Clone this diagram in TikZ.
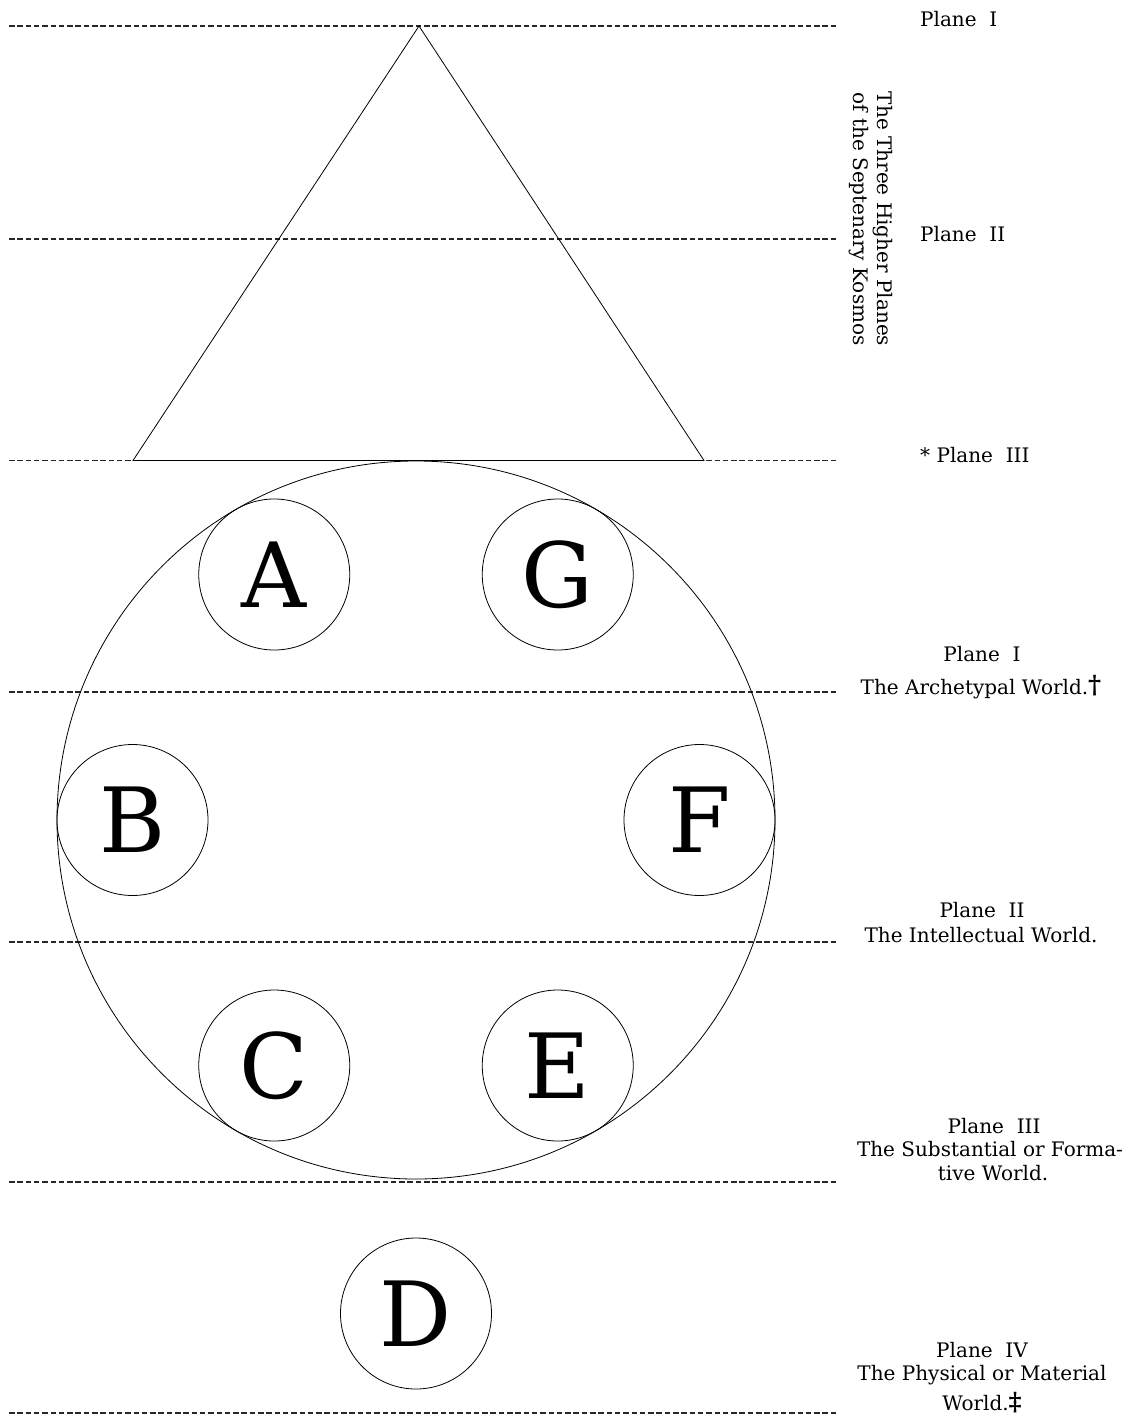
\documentclass[tikz,border=0pt]{standalone}
\usepackage{fontspec}
\setmainfont{DejaVu Serif}
\begin{document}
\begin{tikzpicture}[x=1pt,y=-1pt,
  planeline/.style={draw=black!85,line width=1.6pt,dash pattern=on 5.5pt off 2.8pt},
  shape line/.style={draw=black,line width=0.8pt},
  ring/.style={circle,draw=black,line width=0.8pt,minimum size=151pt,inner sep=0pt,font=\fontsize{90}{90}\selectfont},
  lbl/.style={inner sep=0pt,anchor=base,font=\fontsize{20}{24}\selectfont},
  lblw/.style={inner sep=0pt,anchor=base west,font=\fontsize{20}{24}\selectfont}]
\useasboundingbox (0,0) rectangle (1131,1416);
% dashed plane lines
\coordinate (l1a) at (9,26);    \coordinate (l1b) at (838,26);
\coordinate (l2a) at (9,239);   \coordinate (l2b) at (838,239);
\coordinate (l3a) at (9,460.5); \coordinate (l3b) at (838,460.5);
\coordinate (l4a) at (9,692);   \coordinate (l4b) at (838,692);
\coordinate (l5a) at (9,942);   \coordinate (l5b) at (838,942);
\coordinate (l6a) at (9,1182);  \coordinate (l6b) at (838,1182);
\coordinate (l7a) at (9,1413);  \coordinate (l7b) at (838,1413);
\foreach \i in {1,...,7}{\draw[planeline] (l\i a) -- (l\i b);}
% triangle
\coordinate (apex) at (419,26);
\coordinate (bl) at (133,460.5);
\coordinate (br) at (704,460.5);
\draw[shape line] (apex) -- (bl) -- (br) -- cycle;
% big circle
\node[circle,draw=black,line width=0.8pt,minimum size=718pt,inner sep=0pt] (big) at (416,820) {};
% small circles
\node[ring] (A) at (274.25,574.5) {A};
\node[ring] (G) at (557.75,574.5) {G};
\node[ring] (B) at (132.5,820) {B};
\node[ring] (F) at (699.5,820) {F};
\node[ring] (C) at (274.25,1065.5) {C};
\node[ring] (E) at (557.75,1065.5) {E};
\node[ring] (D) at (416,1313.5) {D};
% upper labels
\node[lblw] (p1) at (920,27) {Plane\ \ I};
\node[lblw] (p2) at (920,241) {Plane\ \ II};
\node[lblw] (p3) at (920,462) {* Plane\ \ III};
\node[lbl,rotate=-90] (v1) at (877,219) {The Three Higher Planes};
\node[lbl,rotate=-90] (v2) at (853,219) {of the Septenary Kosmos};
% lower labels
\node[lbl] (q1) at (982,661) {Plane\ \ I};
\node[lbl] (q1b) at (981,694) {The Archetypal World.\raisebox{1pt}{\fontsize{25}{25}\selectfont\bfseries †}};
\node[lbl] (q2) at (982,917) {Plane\ \ II};
\node[lbl] (q2b) at (981,942) {The Intellectual World.};
\node[lbl] (q3) at (994,1133) {Plane\ \ III};
\node[lbl] (q3b) at (990,1156) {The Substantial or Forma-};
\node[lbl] (q3c) at (993,1180) {tive World.};
\node[lbl] (q4) at (982,1357) {Plane\ \ IV};
\node[lbl] (q4b) at (982,1380) {The Physical or Material};
\node[lbl] (q4c) at (982,1410) {World.\raisebox{0pt}{\fontsize{25}{25}\selectfont\bfseries ‡}};
\end{tikzpicture}
\end{document}
